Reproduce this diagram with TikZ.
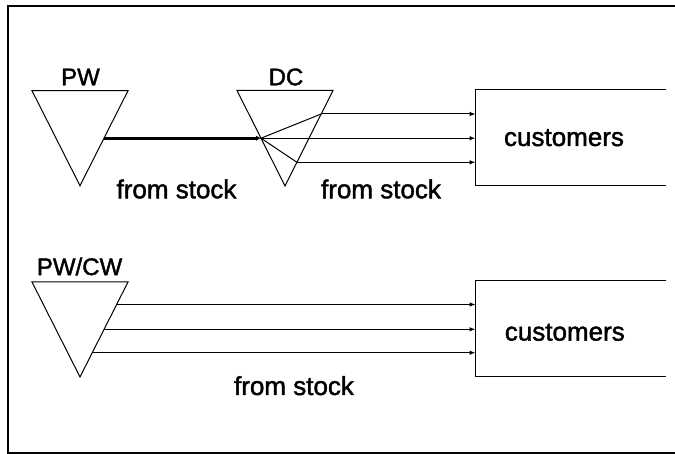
\documentclass[tikz,border=0pt]{standalone}
\usepackage{fontspec}
\setmainfont{Liberation Sans}
\newfontfamily\medfont{Liberation Sans}[FakeBold=1.6]
\usetikzlibrary{arrows.meta}
\begin{document}
\begin{tikzpicture}[x=1pt,y=-1pt,
  thinline/.style={line width=1pt},
  flow/.style={line width=1pt,-{Latex[length=6pt,width=4.5pt]}},
  thickflow/.style={line width=3pt,-{Latex[length=5pt,width=5.5pt]}},
  lbl/.style={font=\medfont\fontsize{24}{28}\selectfont, inner sep=0},
  txt/.style={font=\medfont\fontsize{26}{30}\selectfont, inner sep=0},
  boxshape/.style={draw=none, inner sep=0, minimum width=190.3pt}]
\useasboundingbox (0,0) rectangle (675,454);
% outer frame (right side outside the picture)
\draw[line width=1.8pt] (700,6) -- (8,6) -- (8,453) -- (700,453);

% ---------- upper chain ----------
\coordinate (pwL) at (32,90.7);
\coordinate (pwR) at (128,90.7);
\coordinate (pwA) at (80,185.7);
\draw[thinline] (pwL) -- (pwR) -- (pwA) -- cycle;
\node[lbl] (pw) at (80.5,77) {PW};

\coordinate (dcL) at (237,90.5);
\coordinate (dcR) at (333,90.5);
\coordinate (dcA) at (285,186);
\draw[thinline] (dcL) -- (dcR) -- (dcA) -- cycle;
\node[lbl] (dc) at (286,77) {DC};

\coordinate (pwOut) at (104,138.2);
\coordinate (fan) at (261,138.2);
\coordinate (dcU) at (321.2,114);
\coordinate (dcD) at (296.9,162.3);

\node[boxshape, minimum height=96.4pt] (box1) at (570.9,137.5) {};
\draw[thinline] (box1.north east) -- (box1.north west) -- (box1.south west) -- (box1.south east);
\node[txt] (cust1) at (564,137.7) {customers};

\draw[thickflow] (pwOut) -- (fan);
\draw[thinline] (fan) -- (dcU);
\draw[thinline] (fan) -- (dcD);
\draw[flow] (dcU) -- (dcU -| box1.west);
\draw[flow] (fan) -- (fan -| box1.west);
\draw[flow] (dcD) -- (dcD -| box1.west);

\node[txt] (fs1) at (176.5,189) {from stock};
\node[txt] (fs2) at (381,189) {from stock};

% ---------- lower chain ----------
\coordinate (pcL) at (32,282);
\coordinate (pcR) at (128,282);
\coordinate (pcA) at (80,377);
\draw[thinline] (pcL) -- (pcR) -- (pcA) -- cycle;
\node[lbl] (pc) at (79.6,266.5) {PW/CW};

\coordinate (pc1) at (116.6,304.5);
\coordinate (pc2) at (104.1,329.3);
\coordinate (pc3) at (92.3,352.7);

\node[boxshape, minimum height=95pt] (box2) at (570.9,328.5) {};
\draw[thinline] (box2.north east) -- (box2.north west) -- (box2.south west) -- (box2.south east);
\node[txt] (cust2) at (564.8,332.3) {customers};

\draw[flow] (pc1) -- (pc1 -| box2.west);
\draw[flow] (pc2) -- (pc2 -| box2.west);
\draw[flow] (pc3) -- (pc3 -| box2.west);

\node[txt] (fs3) at (294,385.7) {from stock};
\end{tikzpicture}
\end{document}
